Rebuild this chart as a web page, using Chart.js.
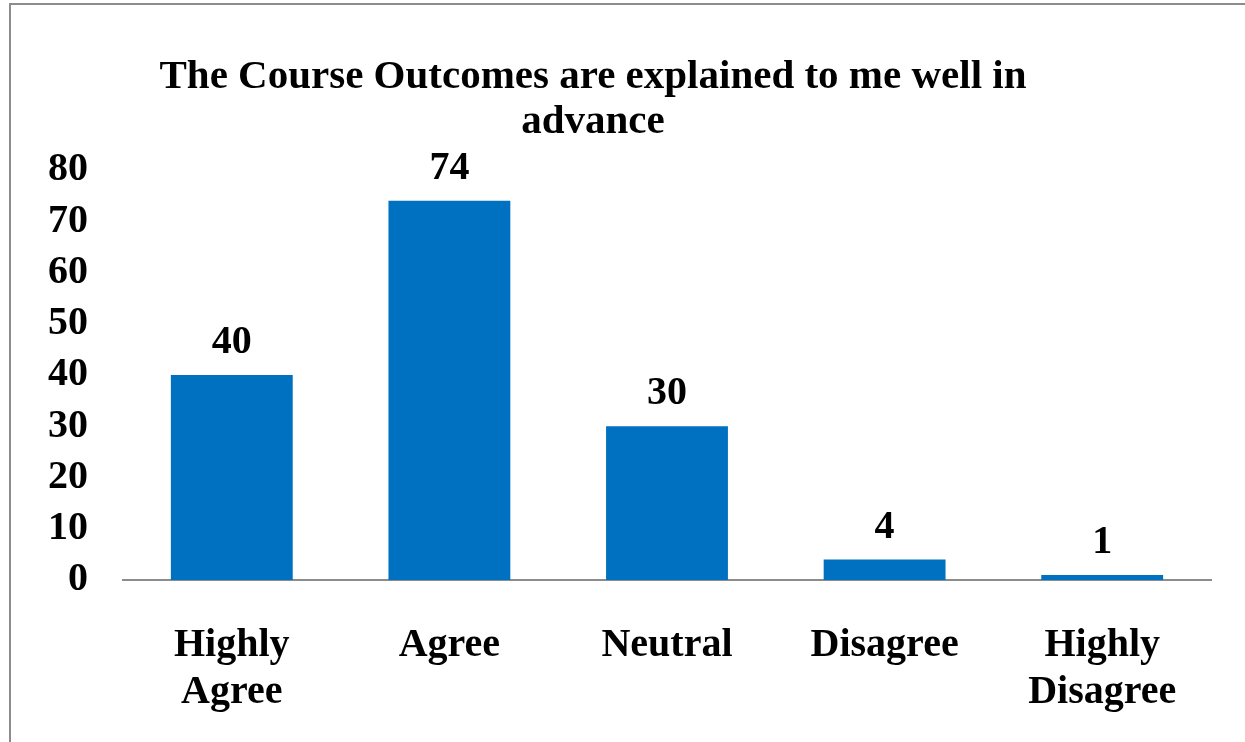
<!DOCTYPE html>
<html>
<head>
<meta charset="utf-8">
<script src="https://cdn.jsdelivr.net/npm/chart.js@4"></script>
<style>
html,body{margin:0;padding:0;background:#fff;overflow:hidden;}
#wrap{position:relative;width:1245px;height:742px;}
#frame{position:absolute;left:9px;top:3px;width:1300px;height:800px;border-top:2px solid #8c8c8c;border-left:2px solid #8c8c8c;pointer-events:none;}
canvas{position:absolute;left:0;top:0;}
</style>
</head>
<body>
<div id="wrap">
<canvas id="c" width="1245" height="742"></canvas>
<div id="frame"></div>
</div>
<script>
const titleLines = ["The Course Outcomes are explained to me well in", "advance"];
const categories = [["Highly", "Agree"], "Agree", "Neutral", "Disagree", ["Highly", "Disagree"]];
const values = [40, 74, 30, 4, 1];
const yTicks = [0, 10, 20, 30, 40, 50, 60, 70, 80];

const FONT = "'Liberation Serif', 'Times New Roman', serif";

const titlePlugin = {
  id: 'customTitle',
  afterDraw(chart) {
    const ctx = chart.ctx;
    ctx.save();
    ctx.font = "bold 41px " + FONT;
    ctx.fillStyle = "#000";
    ctx.textAlign = "center";
    ctx.textBaseline = "alphabetic";
    const baselines = [88, 133];
    titleLines.forEach((t, i) => ctx.fillText(t, 593, baselines[i]));
    ctx.restore();
  }
};

const valueLabels = {
  id: 'valueLabels',
  afterDatasetsDraw(chart) {
    const ctx = chart.ctx;
    const meta = chart.getDatasetMeta(0);
    ctx.save();
    ctx.font = "bold 40px " + FONT;
    ctx.fillStyle = "#000";
    ctx.textAlign = "center";
    ctx.textBaseline = "alphabetic";
    meta.data.forEach((bar, i) => {
      ctx.fillText(String(values[i]), bar.x, bar.y - 22);
    });
    ctx.restore();
  }
};

new Chart(document.getElementById('c'), {
  type: 'bar',
  data: {
    labels: categories,
    datasets: [{
      data: values,
      backgroundColor: '#0070C0',
      borderWidth: 0,
      barPercentage: 0.56,
      categoryPercentage: 1
    }]
  },
  options: {
    responsive: false,
    animation: false,
    devicePixelRatio: 1,
    layout: { padding: { top: 170, right: 34, left: 0, bottom: 0 } },
    plugins: {
      legend: { display: false },
      title: { display: false },
      tooltip: { enabled: false }
    },
    scales: {
      y: {
        min: 0,
        max: 80,
        afterBuildTicks(scale) { scale.ticks = yTicks.map(v => ({ value: v })); },
        afterFit(scale) { scale.width = 123; },
        grid: { display: false, drawTicks: false },
        border: { display: false },
        ticks: {
          padding: 35,
          color: '#000',
          font: { family: FONT, size: 40, weight: 'bold' }
        }
      },
      x: {
        afterFit(scale) { scale.height = 162; },
        grid: { display: false, drawTicks: false },
        border: { display: true, color: '#8c8c8c', width: 2 },
        ticks: {
          padding: 42,
          color: '#000',
          maxRotation: 0,
          autoSkip: false,
          font: { family: FONT, size: 40, weight: 'bold', lineHeight: 1.17 }
        }
      }
    }
  },
  plugins: [titlePlugin, valueLabels]
});
</script>
</body>
</html>
